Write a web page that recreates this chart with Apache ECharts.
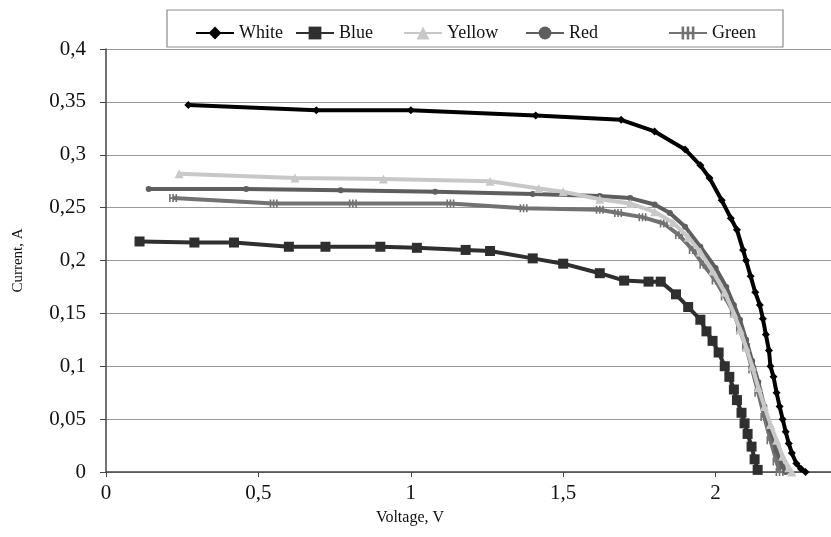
<!DOCTYPE html>
<html>
<head>
<meta charset="utf-8">
<title>Current - Voltage</title>
<script src="https://cdn.jsdelivr.net/npm/echarts@6/dist/echarts.min.js"></script>
<style>
	html, body { margin: 0; padding: 0; background: #fff; }
	#chart { width: 831px; height: 537px; }
</style>
</head>
<body>
<div id="chart"></div>
<script>
// 数据 [Voltage V, Current A]
var seriesNames = ['White', 'Blue', 'Yellow', 'Red', 'Green'];
var whitePts = [[0.27, 0.347], [0.69, 0.342], [1.0, 0.342], [1.41, 0.337], [1.69, 0.333], [1.8, 0.322], [1.9, 0.305],
	[1.95, 0.29], [1.98, 0.278], [2.02, 0.257], [2.05, 0.240], [2.07, 0.229], [2.09, 0.21], [2.10, 0.20], [2.115, 0.185],
	[2.13, 0.17], [2.145, 0.158], [2.155, 0.145], [2.165, 0.13], [2.175, 0.115], [2.18, 0.10], [2.19, 0.09], [2.2, 0.075],
	[2.21, 0.062], [2.22, 0.05], [2.23, 0.038], [2.24, 0.027], [2.25, 0.018], [2.265, 0.008], [2.28, 0.003], [2.295, 0]];
var bluePts = [[0.11, 0.218], [0.29, 0.217], [0.42, 0.217], [0.60, 0.213], [0.72, 0.213], [0.90, 0.213], [1.02, 0.212],
	[1.18, 0.210], [1.26, 0.209], [1.40, 0.202], [1.50, 0.197], [1.62, 0.188], [1.70, 0.181], [1.78, 0.180], [1.82, 0.180],
	[1.87, 0.168], [1.91, 0.156], [1.95, 0.144], [1.97, 0.133], [1.99, 0.124], [2.01, 0.113], [2.03, 0.1], [2.045, 0.09],
	[2.06, 0.078], [2.07, 0.068], [2.085, 0.056], [2.095, 0.046], [2.105, 0.036], [2.118, 0.024], [2.128, 0.012], [2.138, 0.002]];
var yellowPts = [[0.24, 0.282], [0.62, 0.278], [0.91, 0.277], [1.26, 0.275], [1.42, 0.268], [1.50, 0.265], [1.62, 0.258],
	[1.72, 0.254], [1.80, 0.246], [1.86, 0.236], [1.91, 0.222], [1.95, 0.208], [1.99, 0.19], [2.03, 0.17], [2.06, 0.15],
	[2.08, 0.135], [2.10, 0.118], [2.12, 0.1], [2.14, 0.08], [2.16, 0.062], [2.18, 0.045], [2.20, 0.03], [2.22, 0.015],
	[2.24, 0.004], [2.25, 0]];
var redPts = [[0.14, 0.2675], [0.46, 0.2675], [0.77, 0.2665], [1.08, 0.265], [1.40, 0.263], [1.62, 0.261], [1.72, 0.259],
	[1.80, 0.253], [1.85, 0.245], [1.90, 0.232], [1.95, 0.213], [2.0, 0.193], [2.035, 0.175], [2.06, 0.158], [2.08, 0.144],
	[2.10, 0.125], [2.12, 0.105], [2.14, 0.085], [2.16, 0.062], [2.18, 0.04], [2.20, 0.02], [2.22, 0.005], [2.23, 0]];
var greenPts = [[0.22, 0.259], [0.55, 0.254], [0.81, 0.254], [1.13, 0.254], [1.37, 0.2495], [1.62, 0.248], [1.68, 0.245],
	[1.76, 0.241], [1.83, 0.235], [1.88, 0.224], [1.925, 0.21], [1.96, 0.196], [2.0, 0.181], [2.03, 0.166], [2.06, 0.15],
	[2.08, 0.134], [2.10, 0.118], [2.12, 0.097], [2.14, 0.075], [2.16, 0.052], [2.18, 0.03], [2.20, 0.01], [2.21, 0]];

(function() {
	var font = 'Liberation Serif, Times New Roman, serif';
	var colors = ['#000000', '#2f2f2f', '#c8c8c8', '#5e5e5e', '#727272'];
	var symbols = ['diamond', 'rect', 'triangle', 'circle', 'path://M0,0h2v10h-2zM4,0h2v10h-2zM8,0h2v10h-2zM0,4h10v2h-10z'];
	var sizes = [8, 10, 9, 6, 8];
	var allPts = [whitePts, bluePts, yellowPts, redPts, greenPts];
	// 图例位置 (不等间距)
	var legendLeft = [190, 290, 398, 520, 663];

	function comma(v) {
		return String(v).replace('.', ',');
	}

	var series = [];
	var legends = [];
	for(var i = 0; i < seriesNames.length; i++) {
		series.push({
			name: seriesNames[i],
			type: 'line',
			data: allPts[i],
			symbol: symbols[i],
			symbolSize: sizes[i],
			showAllSymbol: true,
			lineStyle: { color: colors[i], width: 4 },
			itemStyle: { color: colors[i] },
			z: 10 - i
		});
		legends.push({
			data: [seriesNames[i]],
			left: legendLeft[i],
			top: 19,
			itemWidth: 38,
			itemHeight: 16,
			textStyle: { fontFamily: font, fontSize: 18, color: '#111' },
			selectedMode: false
		});
	}

	var option = {
		animation: false,
		backgroundColor: '#fff',
		legend: legends,
		grid: { left: 106, top: 49, bottom: 65, right: -37, outerBoundsMode: 'none' },
		graphic: [{
			type: 'rect',
			shape: { x: 167, y: 10, width: 616, height: 37 },
			style: { fill: '#fff', stroke: '#8c8c8c', lineWidth: 1.2 },
			z: -1
		}, {
			type: 'text',
			x: 410, y: 510,
			style: { text: 'Voltage, V', font: '16px ' + font, fill: '#111', align: 'center' }
		}],
		xAxis: {
			type: 'value',
			min: 0, max: 2.5, interval: 0.5,
			splitLine: { show: false },
			axisLine: { lineStyle: { color: '#444', width: 1.5 } },
			axisTick: { show: true, length: 5, lineStyle: { color: '#444' } },
			axisLabel: { formatter: comma, fontFamily: font, fontSize: 21, color: '#111', margin: 11 }
		},
		yAxis: {
			type: 'value',
			min: 0, max: 0.4, interval: 0.05,
			name: 'Current, A',
			nameLocation: 'middle',
			nameGap: 80,
			nameRotate: 90,
			nameTextStyle: { fontFamily: font, fontSize: 15, color: '#111' },
			axisLine: { show: true, lineStyle: { color: '#444', width: 1.5 } },
			axisTick: { show: true, length: 6, lineStyle: { color: '#444' } },
			splitLine: { lineStyle: { color: '#9a9a9a', width: 1.2 } },
			axisLabel: {
				formatter: function(v) { return comma(Math.round(v * 100) / 100); },
				fontFamily: font, fontSize: 21, color: '#111', margin: 20
			}
		},
		series: series
	};

	var myChart = echarts.init(document.getElementById('chart'));
	myChart.setOption(option);
})();
</script>
</body>
</html>
